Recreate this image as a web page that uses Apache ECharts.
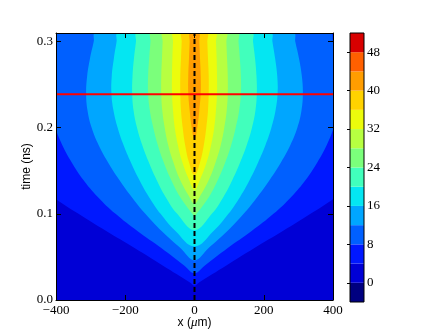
<!DOCTYPE html>
<html><head><meta charset="utf-8">
<script src="https://cdn.jsdelivr.net/npm/echarts@6/dist/echarts.min.js"></script>
<style>html,body{margin:0;padding:0;background:#fff}#c{width:447px;height:335px}</style>
</head><body><div id="c"></div>
<script>
// ---- data ----
const xRange = [-400, 400];
const tRange = [0, 0.31];
const xTicks = [-400, -200, 0, 200, 400];
const tTicks = [0, 0.1, 0.2, 0.3];
const cbLevels = [-4, 0, 4, 8, 12, 16, 20, 24, 28, 32, 36, 40, 44, 48, 52];
const cbTicks = [0, 8, 16, 24, 32, 40, 48];
const bandColors = ['#000080', '#0000d6', '#0018ff', '#0060ff', '#00a6ff', '#04e6f2',
  '#41ffbc', '#7bff7b', '#b7ff41', '#ecfc0c', '#ffd200', '#ff9d00', '#ff6000', '#d80000'];
// sample times (ns) for the contour half-widths
const times = [0, 0.02, 0.04, 0.06, 0.08, 0.10, 0.12, 0.14, 0.16, 0.18, 0.20, 0.22, 0.24, 0.26, 0.28, 0.30, 0.31];
// contour levels drawn and the time at which each contour starts on the centre line
const contourLevels = [4, 8, 12, 16, 20, 24, 28, 32, 36, 40];
const tipTimes = [0.0165, 0.031, 0.046, 0.062, 0.081, 0.097, 0.112, 0.128, 0.145, 0.186];
// half-widths (um) of the region above each level
const w4  = [null, 12, 92, 172, 255, 335, 410, 470, 520, 540, 550, 550, 550, 550, 550, 550, 550];
const w8  = [null, null, 30, 95, 165, 228, 280, 322, 355, 382, 402, 414, 418, 416, 410, 400, 392];
const w12 = [null, null, null, 40, 95, 142, 182, 218, 250, 277, 297, 309, 313, 310, 302, 291, 286];
const w16 = [null, null, null, null, 55, 98, 132, 160, 184, 205, 222, 234, 240, 239, 233, 225, 221];
const w20 = [null, null, null, null, null, 50, 84, 110, 132, 151, 166, 176, 180, 179, 175, 169, 166];
const w24 = [null, null, null, null, null, 6, 42, 68, 89, 106, 119, 129, 134, 134, 131, 127, 125];
const w28 = [null, null, null, null, null, null, 15, 42, 61, 76, 86, 93, 96, 96, 94, 92, 91];
const w32 = [null, null, null, null, null, null, null, 16, 35, 48, 57, 62, 65, 65, 64, 62, 61];
const w36 = [null, null, null, null, null, null, null, null, 16, 27, 34, 39, 41, 41, 39, 37, 36];
const w40 = [null, null, null, null, null, null, null, null, null, null, 8, 14, 18, 18, 16, 14, 13];
const widths = [w4, w8, w12, w16, w20, w24, w28, w32, w36, w40];
const redLineT = 0.239;
const centerX = 0;

// ---- chart ----
const serif = 'Liberation Serif';
const sans = 'Liberation Sans';
function contourPts(k) {
  const w = widths[k], tip = tipTimes[k];
  const right = [], left = [];
  for (let i = 0; i < times.length; i++) {
    if (w[i] == null || times[i] <= tip) continue;
    right.push([centerX + w[i], times[i]]);
    left.unshift([centerX - w[i], times[i]]);
  }
  return [[centerX, tip]].concat(right, left);
}
const axisCommon = {
  z: 10,
  axisLine: {show: true, onZero: false, lineStyle: {color: '#000', width: 1}},
  splitLine: {show: false}
};
const chart = echarts.init(document.getElementById('c'), null, {renderer: 'canvas'});
chart.setOption({
  animation: false,
  grid: [
    {left: 56, top: 33, width: 277, height: 267, show: true, backgroundColor: bandColors[1], borderWidth: 0},
    {left: 350, top: 33, width: 14, height: 269, show: false}
  ],
  xAxis: [
    Object.assign({}, axisCommon, {
      gridIndex: 0, type: 'value', position: 'bottom', min: xRange[0], max: xRange[1], interval: 200,
      axisTick: {show: true, inside: true, length: 5, customValues: xTicks, lineStyle: {color: '#000'}},
      axisLabel: {customValues: xTicks, margin: 4, color: '#000', fontFamily: serif, fontSize: 13,
        formatter: v => String(v).replace('-', '\u2212')},
      name: 'x ({mu|\u03bc}m)', nameLocation: 'middle', nameGap: 16, nameMoveOverlap: false,
      nameTextStyle: {fontFamily: sans, fontSize: 12, color: '#000',
        rich: {mu: {fontFamily: serif, fontStyle: 'italic', fontSize: 13, color: '#000'}}}
    }),
    Object.assign({}, axisCommon, {
      gridIndex: 0, type: 'value', position: 'top', min: xRange[0], max: xRange[1], interval: 200,
      axisTick: {show: true, inside: true, length: 5, customValues: xTicks, lineStyle: {color: '#000'}},
      axisLabel: {show: false}
    }),
    {gridIndex: 1, type: 'value', min: 0, max: 1, show: false}
  ],
  yAxis: [
    Object.assign({}, axisCommon, {
      gridIndex: 0, type: 'value', position: 'left', min: tRange[0], max: tRange[1], interval: 0.1,
      axisTick: {show: true, inside: true, length: 5, customValues: tTicks, lineStyle: {color: '#000'}},
      axisLabel: {customValues: tTicks, margin: 3, color: '#000', fontFamily: serif, fontSize: 13,
        formatter: v => v.toFixed(1)},
      name: 'time (ns)', nameLocation: 'middle', nameGap: 23, nameRotate: 90, nameMoveOverlap: false,
      nameTextStyle: {fontFamily: sans, fontSize: 12, color: '#000'}
    }),
    Object.assign({}, axisCommon, {
      gridIndex: 0, type: 'value', position: 'right', min: tRange[0], max: tRange[1], interval: 0.1,
      axisTick: {show: true, inside: true, length: 5, customValues: tTicks, lineStyle: {color: '#000'}},
      axisLabel: {show: false}
    }),
    {
      gridIndex: 1, type: 'value', position: 'right', min: cbLevels[0], max: cbLevels[cbLevels.length - 1], interval: 4,
      z: 10, splitLine: {show: false},
      axisLine: {show: false},
      axisTick: {show: true, inside: true, length: 3, customValues: cbTicks, lineStyle: {color: '#000'}},
      axisLabel: {customValues: cbTicks, margin: 3, color: '#000', fontFamily: serif, fontSize: 13}
    }
  ],
  series: [
    {
      type: 'custom', xAxisIndex: 0, yAxisIndex: 0, clip: true, z: 2,
      data: contourLevels.map((l, k) => [k]),
      renderItem: function (params, api) {
        const k = api.value(0);
        const pts = contourPts(k).map(p => api.coord(p));
        return {type: 'polygon', shape: {points: pts, smooth: 0.4}, style: {fill: bandColors[k + 2], stroke: null}};
      }
    },
    {
      type: 'line', xAxisIndex: 0, yAxisIndex: 0, z: 5, symbol: 'none', silent: true,
      data: [[xRange[0], redLineT], [xRange[1], redLineT]],
      lineStyle: {color: '#ff0000', width: 2}
    },
    {
      type: 'line', xAxisIndex: 0, yAxisIndex: 0, z: 6, symbol: 'none', silent: true,
      data: [[centerX, tRange[0]], [centerX, tRange[1]]],
      lineStyle: {color: '#000', width: 2, type: [5, 3]}
    },
    {
      type: 'custom', xAxisIndex: 2, yAxisIndex: 2, z: 2,
      data: bandColors.map((c, i) => [i]),
      renderItem: function (params, api) {
        const i = api.value(0);
        const p0 = api.coord([0, cbLevels[i]]), p1 = api.coord([1, cbLevels[i + 1]]);
        return {type: 'rect', shape: {x: p0[0], y: p1[1], width: p1[0] - p0[0], height: p0[1] - p1[1]},
          style: {fill: bandColors[i], stroke: null}};
      }
    },
    {
      type: 'custom', xAxisIndex: 2, yAxisIndex: 2, z: 8,
      data: [[0]],
      renderItem: function (params, api) {
        const p0 = api.coord([0, cbLevels[0]]), p1 = api.coord([1, cbLevels[cbLevels.length - 1]]);
        return {type: 'rect', shape: {x: p0[0], y: p1[1], width: p1[0] - p0[0], height: p0[1] - p1[1]},
          style: {fill: null, stroke: '#000', lineWidth: 1}};
      }
    }
  ]
});
</script></body></html>
